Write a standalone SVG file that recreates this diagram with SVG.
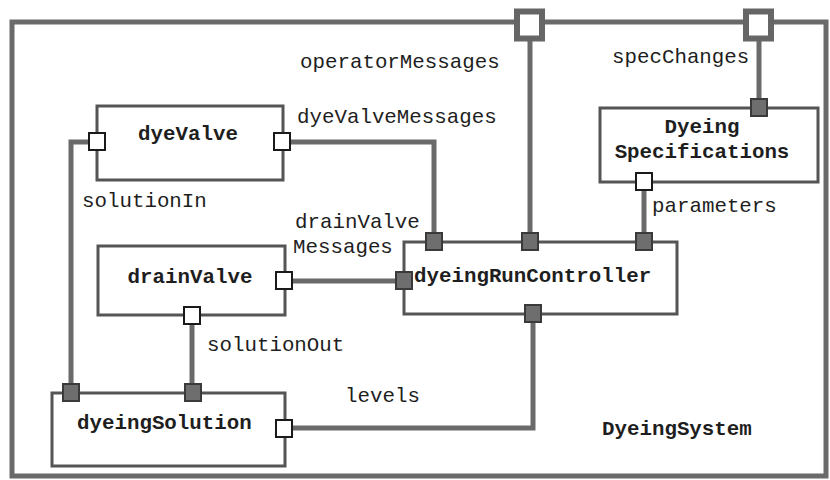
<svg xmlns="http://www.w3.org/2000/svg" width="830" height="480" viewBox="0 0 830 480">
<style>
.edge{fill:none;stroke:#6a6a6a;stroke-width:5;stroke-linejoin:miter}
.box{fill:#fff;stroke:#555;stroke-width:3}
.pw{fill:#fff;stroke:#1a1a1a;stroke-width:2}
.pd{fill:#6e6e6e;stroke:#3a3a3a;stroke-width:2}
.pt{fill:#fff;stroke:#666;stroke-width:6}
.lbl{font-family:"Liberation Mono","Courier New",monospace;font-size:20.8px;fill:#1e1e1e}
.b{font-weight:bold}
</style>
<rect width="830" height="480" fill="#fff"/>
<g id="DyeingSystem">
<rect x="12" y="22" width="814" height="454" fill="none" stroke="#6a6a6a" stroke-width="5"/>
<text class="lbl b" x="602" y="435">DyeingSystem</text>
</g>
<g id="connectors">
<path class="edge" d="M530 40 V242 M759 40 V108 M291 142 H434 V242 M89 142 H71 V393 M644 191 V242 M293 281 H404 M192 324 V393 M293 428 H533 V314"/>
<text class="lbl" x="300" y="68">operatorMessages</text>
<text class="lbl" x="612" y="63">specChanges</text>
<text class="lbl" x="297" y="123">dyeValveMessages</text>
<text class="lbl" x="82" y="207">solutionIn</text>
<text class="lbl" x="652" y="212">parameters</text>
<text class="lbl" x="295" y="228">drainValve</text>
<text class="lbl" x="293" y="253">Messages</text>
<text class="lbl" x="207" y="351">solutionOut</text>
<text class="lbl" x="345" y="402">levels</text>
</g>
<g id="portOperatorMessages"><rect class="pt" x="517" y="11.5" width="25" height="27"/></g>
<g id="portSpecChanges"><rect class="pt" x="746" y="11.5" width="25" height="27"/></g>
<g id="dyeValve">
<rect class="box" x="97" y="106" width="186" height="74"/>
<text class="lbl b" x="188" y="140" text-anchor="middle">dyeValve</text>
<rect class="pw" x="89" y="133" width="16" height="17"/>
<rect class="pw" x="274" y="133" width="16" height="17"/>
</g>
<g id="DyeingSpecifications">
<rect class="box" x="600" y="108" width="218" height="74"/>
<text class="lbl b" x="702" y="133" text-anchor="middle">Dyeing</text>
<text class="lbl b" x="702" y="158" text-anchor="middle">Specifications</text>
<rect class="pd" x="751" y="99" width="16" height="17"/>
<rect class="pw" x="636" y="173" width="16" height="17"/>
</g>
<g id="dyeingRunController">
<rect class="box" x="404" y="242" width="273" height="72"/>
<text class="lbl b" x="414" y="282">dyeingRunController</text>
<rect class="pd" x="426" y="233" width="16" height="17"/>
<rect class="pd" x="522" y="233" width="16" height="17"/>
<rect class="pd" x="636" y="233" width="16" height="17"/>
<rect class="pd" x="396" y="272" width="16" height="17"/>
<rect class="pd" x="525" y="305" width="16" height="17"/>
</g>
<g id="drainValve">
<rect class="box" x="98" y="246" width="187" height="69"/>
<text class="lbl b" x="190" y="283" text-anchor="middle">drainValve</text>
<rect class="pw" x="276" y="272" width="16" height="17"/>
<rect class="pw" x="184" y="307" width="16" height="17"/>
</g>
<g id="dyeingSolution">
<rect class="box" x="52" y="393" width="233" height="73"/>
<text class="lbl b" x="77" y="429">dyeingSolution</text>
<rect class="pd" x="63" y="384" width="16" height="17"/>
<rect class="pd" x="185" y="384" width="16" height="17"/>
<rect class="pw" x="276" y="420" width="16" height="17"/>
</g>
</svg>
